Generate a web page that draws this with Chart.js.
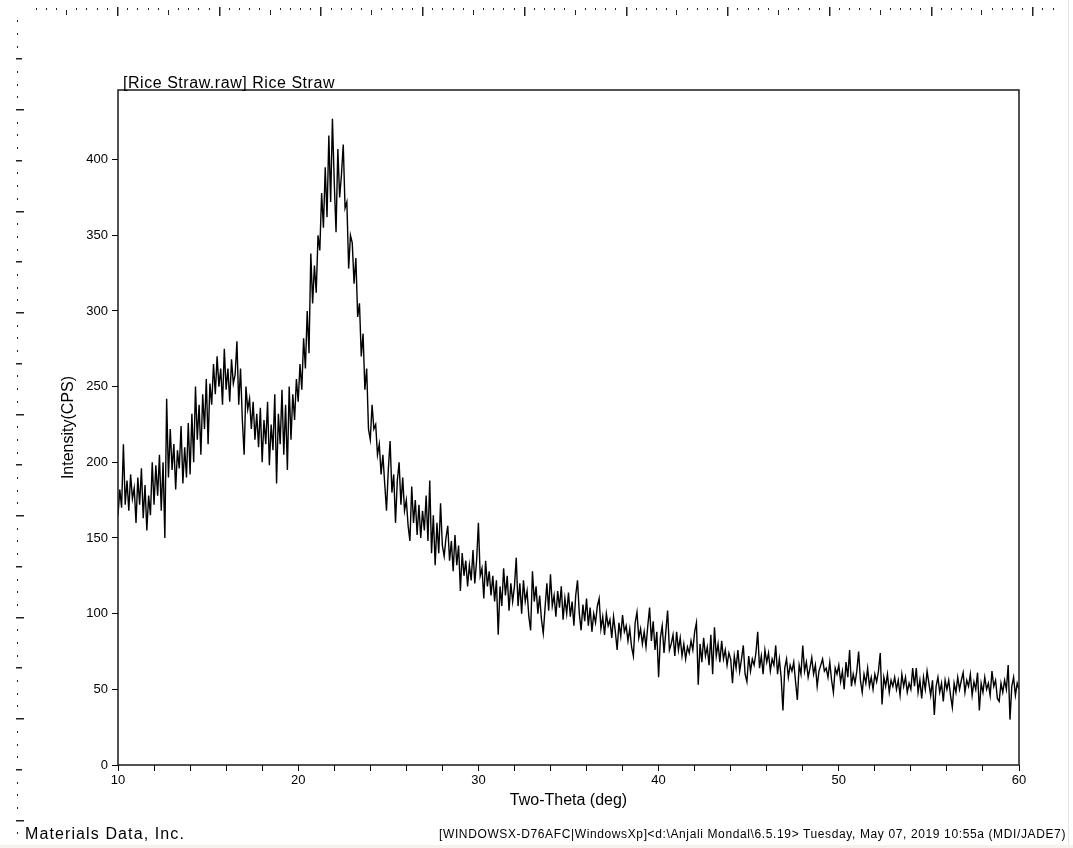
<!DOCTYPE html>
<html>
<head>
<meta charset="utf-8">
<script src="https://cdn.jsdelivr.net/npm/chart.js@4.4.1/dist/chart.umd.min.js"></script>
<style>
html,body{margin:0;padding:0;background:#fff;}
#wrap{position:relative;width:1073px;height:848px;overflow:hidden;background:#fff;}
canvas{position:absolute;left:0;top:0;}
.txt{position:absolute;white-space:nowrap;font-family:"Liberation Sans",Arial,sans-serif;color:#000;line-height:1;}
#edge{position:absolute;left:1068px;top:0;width:1px;height:848px;background:#e4e4e4;}
#strip{position:absolute;left:0;top:845px;width:1073px;height:3px;background:#f4f2ea;}
</style>
</head>
<body>
<div id="wrap">
<canvas id="c" width="1073" height="848"></canvas>
<div id="edge"></div>
<div id="strip"></div>
<div class="txt" id="chartTitle" style="left:123px;top:75px;font-size:16px;"></div>
<div class="txt" id="footLeft" style="left:25px;top:826px;font-size:16px;"></div>
<div class="txt" id="footRight" style="left:439px;top:828px;font-size:12px;"></div>
</div>
<script>
// ---- Data (Two-Theta from 10 to 60 deg, step 0.1) ----
const startAngle = 10;
const stepAngle = 0.1;
const intensity = [
 165,182,170,212,172,188,168,192,176,183,
 160,190,172,196,163,185,155,178,165,200,
 172,198,178,205,168,200,150,242,190,222,
 195,212,182,208,196,224,186,210,190,226,
 192,232,200,250,215,238,205,245,222,255,
 212,252,238,265,245,270,250,262,238,275,
 248,262,240,268,252,258,280,238,262,228,
 205,250,235,242,222,240,215,232,210,236,
 200,228,212,240,198,225,208,245,186,232,
 212,248,205,238,195,250,215,245,228,255,
 240,265,248,282,262,300,272,338,305,330,
 312,350,340,378,355,395,362,416,372,427,
 385,352,407,375,390,410,368,372,328,350,
 345,318,335,296,305,270,285,248,262,222,
 215,238,222,225,205,212,192,205,186,168,
 195,214,180,192,160,188,200,172,190,168,
 175,158,148,184,160,175,152,172,150,168,
 155,178,148,188,140,165,132,160,140,173,
 145,138,150,158,135,148,128,152,132,145,
 115,140,125,135,118,132,122,142,120,135,
 160,125,130,110,135,118,128,112,125,108,
 122,86,118,105,130,112,125,102,120,108,
 118,137,105,120,100,122,108,115,98,89,
 128,108,118,100,112,96,87,104,120,102,
 126,105,112,98,115,104,118,96,110,100,
 114,98,108,92,112,122,100,89,106,95,
 110,92,104,88,100,94,105,110,90,98,
 86,100,92,96,84,98,88,76,94,85,
 99,88,92,82,90,78,72,94,101,84,
 90,80,88,78,92,104,82,95,76,88,
 58,84,92,74,88,102,76,80,86,72,
 88,76,84,72,80,70,78,74,82,76,
 88,94,53,80,68,84,72,78,66,86,
 60,91,72,80,68,82,70,76,66,74,
 70,54,72,64,76,62,70,79,60,55,
 72,62,70,66,74,88,64,72,60,76,
 68,74,62,70,66,79,60,70,58,36,
 64,70,58,66,62,68,55,43,66,60,
 79,62,68,58,64,71,60,66,52,62,
 66,70,62,64,58,68,56,48,64,60,
 66,55,62,50,68,58,76,52,60,54,
 62,75,56,48,60,54,64,52,58,50,
 60,55,62,74,40,58,52,60,48,56,
 52,58,50,56,46,60,52,58,48,54,
 50,64,52,64,48,56,44,58,50,62,
 54,46,56,33,52,58,48,54,42,56,
 50,56,46,38,54,48,58,50,56,61,
 48,56,52,60,46,55,50,61,36,54,
 48,58,50,54,46,62,52,56,44,42,
 54,48,56,50,66,30,52,58,46,54,
 50
];
const twoTheta = intensity.map((_, i) => Math.round((startAngle + i * stepAngle) * 10) / 10);

const xTickValues = [10,12,14,16,18,20,22,24,26,28,30,32,34,36,38,40,42,44,46,48,50,52,54,56,58,60];
const xTickLabels = ['10','','','','','20','','','','','30','','','','','40','','','','','50','','','','','60'];
const yTickValues = [0,50,100,150,200,250,300,350,400];
const yTickLabels = ['0','50','100','150','200','250','300','350','400'];

const chartTitleText = '[Rice Straw.raw] Rice Straw';
const xAxisTitle = 'Two-Theta (deg)';
const yAxisTitle = 'Intensity(CPS)';
const footerLeftText = 'Materials Data, Inc.';
const footerRightText = '[WINDOWSX-D76AFC|WindowsXp]<d:\\Anjali Mondal\\6.5.19> Tuesday, May 07, 2019 10:55a (MDI/JADE7)';

// ---- text overlays ----
function fitText(id, text, target){
  const el = document.getElementById(id);
  el.textContent = text;
  el.style.letterSpacing = '0px';
  const w = el.getBoundingClientRect().width;
  el.style.letterSpacing = ((target - w) / text.length) + 'px';
}
fitText('chartTitle', chartTitleText, 212);
fitText('footLeft', footerLeftText, 160);
fitText('footRight', footerRightText, 627);

const FONT = '"Liberation Sans", Arial, sans-serif';

const rulerPlugin = {
  id: 'ruler',
  afterDraw(chart){
    const c = chart.ctx;
    c.save();
    c.fillStyle = '#222';
    for (let k = -9; k <= 95; k++) {
      const x = Math.round(117 + k * 10.17);
      if (x < 27 || x > 1062) continue;
      const m = ((k % 10) + 10) % 10;
      if (m === 0) c.fillRect(x, 7, 1.5, 9);
      else if (m === 5) c.fillRect(x, 10, 1, 5);
      else c.fillRect(x, 8, 1, 2);
    }
    for (let k = -7; k <= 60; k++) {
      const y = Math.round(109 + k * 12.69);
      if (y < 18 || y > 836) continue;
      const m = ((k % 8) + 8) % 8;
      if (m === 0) c.fillRect(16, y, 8, 1.5);
      else if (m === 4) c.fillRect(16, y, 6, 1.5);
      else c.fillRect(17, y, 1, 2);
    }
    c.restore();
  }
};

const framePlugin = {
  id: 'frame',
  afterDraw(chart){
    const a = chart.chartArea;
    const c = chart.ctx;
    c.save();
    c.strokeStyle = '#1a1a1a';
    c.lineWidth = 1.5;
    c.strokeRect(a.left, a.top, a.right - a.left, a.bottom - a.top);
    c.restore();
  }
};

new Chart(document.getElementById('c'), {
  type: 'line',
  data: {
    labels: twoTheta,
    datasets: [{
      label: chartTitleText,
      data: intensity,
      borderColor: '#000',
      borderWidth: 1.4,
      pointRadius: 0,
      tension: 0,
      fill: false
    }]
  },
  options: {
    responsive: false,
    animation: false,
    devicePixelRatio: 1,
    layout: { padding: { left: 0, top: 90, right: 54, bottom: 0 } },
    plugins: { legend: { display: false }, tooltip: { enabled: false }, title: { display: false } },
    scales: {
      x: {
        type: 'linear',
        min: 10, max: 60,
        afterFit(s){ s.height = 83; },
        afterBuildTicks(s){ s.ticks = xTickValues.map(v => ({ value: v })); },
        grid: { drawOnChartArea: false, drawTicks: true, tickLength: 6, tickColor: '#000', tickWidth: 1 },
        border: { display: false },
        ticks: {
          autoSkip: false, maxRotation: 0, padding: 2, color: '#000',
          font: { family: FONT, size: 13 },
          callback: (v, i) => xTickLabels[i]
        },
        title: { display: true, text: xAxisTitle, color: '#000', font: { family: FONT, size: 16 }, padding: { top: 0, bottom: 38 } }
      },
      y: {
        type: 'linear',
        min: 0, max: 446,
        afterFit(s){ s.width = 118; },
        afterBuildTicks(s){ s.ticks = yTickValues.map(v => ({ value: v })); },
        grid: { drawOnChartArea: false, drawTicks: true, tickLength: 6, tickColor: '#000', tickWidth: 1 },
        border: { display: false },
        ticks: {
          padding: 4, color: '#000',
          font: { family: FONT, size: 13 },
          callback: (v, i) => yTickLabels[i]
        },
        title: { display: true, text: yAxisTitle, color: '#000', font: { family: FONT, size: 16 }, padding: { top: 59, bottom: 0 } }
      }
    }
  },
  plugins: [rulerPlugin, framePlugin]
});
</script>
</body>
</html>
